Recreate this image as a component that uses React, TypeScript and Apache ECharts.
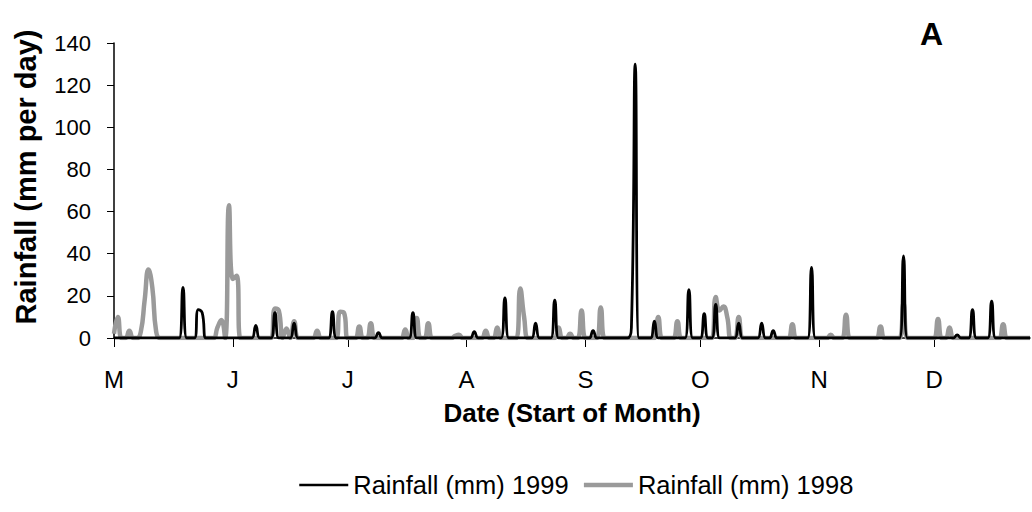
import React, { useEffect, useRef } from "react";
import * as echarts from "echarts";

// Daily rainfall, season starts 1 May (day index 0) and runs 240 days.
const SEASON_START = "1999-05-01";
const SEASON_DAYS = 240;

const monthStartDays = [0, 31, 61, 92, 123, 153, 184, 214];
const monthLetters = ["M", "J", "J", "A", "S", "O", "N", "D"];
const yTicks = [0, 20, 40, 60, 80, 100, 120, 140];

// [day index from 1 May, mm]; days not listed had no rain
const rainEvents1999: [number, number][] = [
  [18, 24], [22, 13.5], [23, 12], [37, 6], [42, 12], [47, 7], [57, 12.5],
  [69, 2.5], [78, 12], [94, 3], [102, 19], [110, 7], [115, 18], [125, 3.5],
  [135, 5], [136, 130], [141, 8], [150, 23], [154, 11.5], [157, 16], [163, 7],
  [169, 7], [172, 3.5], [182, 33.5], [206, 39], [220, 1.5], [224, 13.5], [229, 17.5],
];

const rainEvents1998: [number, number][] = [
  [0, 2], [1, 10], [4, 3.5], [7, 3], [8, 18], [9, 32.5], [10, 24], [11, 3],
  [27, 5], [28, 8.5], [30, 63], [31, 28], [32, 29.5], [42, 14], [43, 13],
  [45, 4.5], [47, 8], [53, 3.5], [59, 12.5], [60, 12], [64, 5.5], [67, 7],
  [76, 4], [79, 9.5], [82, 7], [89, 1], [90, 1.5], [97, 3.5], [100, 5],
  [106, 23.5], [107, 10], [116, 5], [119, 2], [122, 13], [127, 14.5], [142, 10],
  [147, 8], [157, 19.5], [158, 13], [159, 15], [160, 10], [163, 10], [177, 6.5],
  [187, 1.5], [191, 11], [200, 5.5], [206, 16.5], [215, 9], [218, 5], [232, 6.5],
];

const FONT = "'Liberation Sans', Arial, Helvetica, sans-serif";
const GRAY = "#9a9a9a";

function buildDates(): string[] {
  const out: string[] = [];
  const d0 = new Date(SEASON_START + "T00:00:00Z");
  for (let i = 0; i < SEASON_DAYS; i++) {
    const d = new Date(d0.getTime() + i * 86400000);
    out.push(d.toISOString().slice(0, 10));
  }
  return out;
}

function toDaily(events: [number, number][]): number[] {
  const arr: number[] = new Array(SEASON_DAYS).fill(0);
  events.forEach(([day, mm]) => {
    arr[day] = mm;
  });
  return arr;
}

export default function App() {
  const ref = useRef<HTMLDivElement>(null);

  useEffect(() => {
    if (!ref.current) return;
    const chart = echarts.init(ref.current, undefined, { renderer: "svg" });
    const dates = buildDates();
    const isMonthStart = (i: number) => monthStartDays.indexOf(i) >= 0;

    chart.setOption({
      animation: false,
      backgroundColor: "#fff",
      textStyle: { fontFamily: FONT },
      grid: { left: 114, right: 2, top: 43, bottom: 174, containLabel: false },
      legend: {
        data: [
          { name: "Rainfall (mm) 1999", lineStyle: { width: 2.5, color: "#000" } },
          { name: "Rainfall (mm) 1998", lineStyle: { width: 4.5, color: GRAY } },
        ],
        left: 293,
        top: 467,
        itemWidth: 49,
        itemHeight: 14,
        itemGap: 13,
        itemStyle: { opacity: 0 },
        textStyle: { fontSize: 25.5, color: "#000", fontFamily: FONT },
      },
      xAxis: {
        type: "category",
        data: dates,
        boundaryGap: false,
        name: "Date (Start of Month)",
        nameLocation: "middle",
        nameGap: 62,
        nameTextStyle: { fontSize: 26, fontWeight: "bold", color: "#000", fontFamily: FONT },
        axisLine: { lineStyle: { color: "#000", width: 1.5 } },
        axisTick: {
          interval: (i: number) => isMonthStart(i),
          length: 9,
          lineStyle: { color: "#000", width: 1 },
        },
        axisLabel: {
          interval: (i: number) => isMonthStart(i),
          formatter: (_v: string, i: number) => monthLetters[monthStartDays.indexOf(i)] ?? "",
          fontSize: 24,
          color: "#000",
          margin: 29,
          fontFamily: FONT,
        },
        splitLine: { show: false },
      },
      yAxis: {
        type: "value",
        min: yTicks[0],
        max: yTicks[yTicks.length - 1],
        interval: 20,
        axisLine: { show: true, lineStyle: { color: "#000", width: 1.5 } },
        axisTick: { show: true, length: 7, lineStyle: { color: "#000" } },
        axisLabel: { fontSize: 22, color: "#000", margin: 23, fontFamily: FONT },
        splitLine: { show: false },
      },
      graphic: [
        {
          type: "text",
          x: 26,
          y: 177,
          rotation: Math.PI / 2,
          style: {
            text: "Rainfall (mm per day)",
            font: `bold 29px ${FONT}`,
            fill: "#000",
            align: "center",
            verticalAlign: "middle",
          },
        },
        {
          type: "text",
          left: 920,
          top: 18,
          style: { text: "A", font: `bold 32px ${FONT}`, fill: "#000" },
        },
      ],
      series: [
        {
          name: "Rainfall (mm) 1998",
          type: "line",
          data: toDaily(rainEvents1998),
          smooth: true,
          symbol: "none",
          lineStyle: { color: GRAY, width: 4.5 },
          itemStyle: { color: GRAY },
          z: 2,
        },
        {
          name: "Rainfall (mm) 1999",
          type: "line",
          data: toDaily(rainEvents1999),
          smooth: true,
          symbol: "none",
          lineStyle: { color: "#000", width: 2.8 },
          itemStyle: { color: "#000" },
          z: 3,
        },
      ],
    });

    return () => chart.dispose();
  }, []);

  return (
    <div
      ref={ref}
      style={{ position: "fixed", left: 0, top: 0, width: 1032, height: 512, background: "#fff" }}
    />
  );
}
